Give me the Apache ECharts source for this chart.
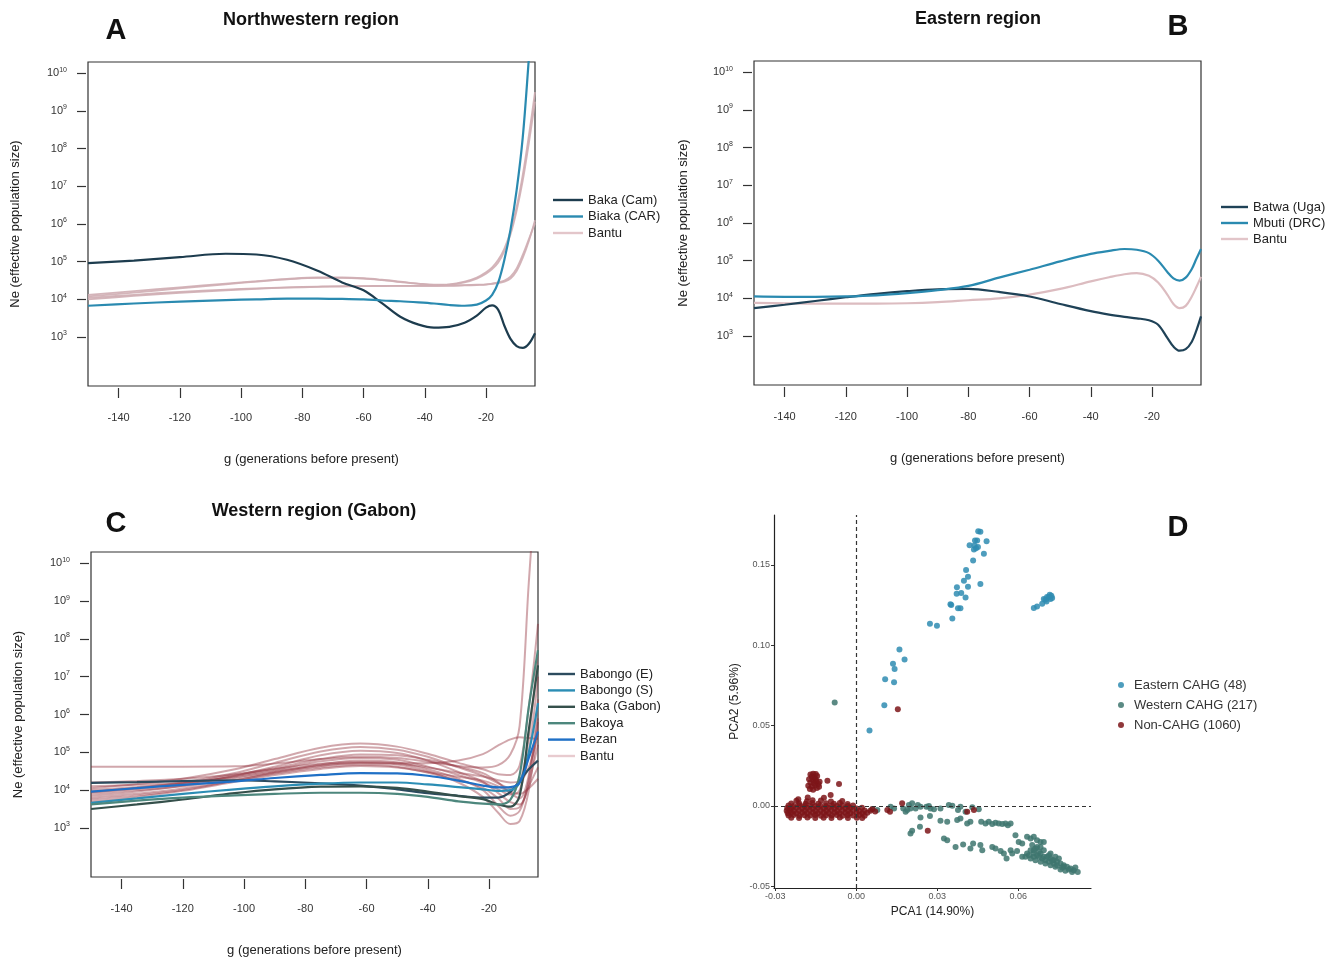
<!DOCTYPE html>
<html><head><meta charset="utf-8">
<script src="https://cdn.jsdelivr.net/npm/echarts@6/dist/echarts.min.js"></script>
<style>html,body{margin:0;padding:0;background:#fff}#c{width:1342px;height:960px}</style>
</head><body><div id="c"></div>
<script>
// ---------------- DATA ----------------
// Panels A-C: x = g (generations before present), y = log10(Ne)
const Y_TICK_EXPONENTS = [3,4,5,6,7,8,9,10];
const X_TICKS_G = [-140,-120,-100,-80,-60,-40,-20];

const G_A = [-150,-135,-120,-105,-95,-85,-75,-67,-60,-54,-48,-42,-37,-32,-27,-23,-20,-18,-16,-14,-12,-10,-8,-6,-4];
const A_BAKA_CAM  = [4.96,5.03,5.12,5.21,5.19,5.05,4.76,4.45,4.24,3.90,3.54,3.33,3.25,3.27,3.38,3.57,3.78,3.84,3.72,3.30,2.95,2.76,2.71,2.82,3.10];
const A_BIAKA_CAR = [3.83,3.89,3.94,3.98,4.00,4.02,4.02,4.01,4.00,3.97,3.95,3.92,3.89,3.85,3.83,3.86,3.97,4.12,4.45,5.05,5.85,6.90,8.30,10.40,12.60];
const A_BANTU_1 = [4.12,4.22,4.32,4.42,4.48,4.54,4.58,4.58,4.56,4.52,4.47,4.42,4.39,4.40,4.47,4.58,4.72,4.85,5.05,5.35,5.80,6.45,7.30,8.35,9.50];
const A_BANTU_2 = [4.08,4.18,4.29,4.40,4.47,4.53,4.57,4.57,4.55,4.51,4.46,4.41,4.38,4.39,4.45,4.55,4.68,4.80,4.98,5.28,5.72,6.35,7.15,8.15,9.25];
const A_BANTU_3 = [4.04,4.12,4.20,4.26,4.29,4.32,4.34,4.35,4.35,4.36,4.36,4.36,4.36,4.36,4.37,4.38,4.39,4.41,4.43,4.47,4.55,4.75,5.10,5.55,6.10];
const A_BANTU_4 = [4.00,4.09,4.17,4.24,4.28,4.31,4.33,4.34,4.35,4.35,4.36,4.36,4.36,4.37,4.38,4.39,4.40,4.42,4.45,4.50,4.60,4.82,5.18,5.60,6.02];

const G_B = [-150,-140,-130,-120,-110,-100,-90,-80,-70,-60,-50,-40,-34,-29,-25,-21,-18,-15,-13,-11,-9,-7,-5.5,-4];
const B_BATWA_UGA = [3.74,3.83,3.93,4.03,4.12,4.19,4.24,4.25,4.17,4.05,3.85,3.66,3.57,3.51,3.47,3.42,3.30,2.95,2.72,2.61,2.65,2.85,3.15,3.52];
const B_MBUTI_DRC = [4.05,4.04,4.04,4.05,4.08,4.14,4.22,4.33,4.55,4.76,4.98,5.18,5.26,5.31,5.29,5.20,5.00,4.70,4.53,4.47,4.55,4.78,5.05,5.31];
const B_BANTU     = [3.88,3.87,3.86,3.86,3.86,3.87,3.90,3.95,4.00,4.10,4.25,4.45,4.56,4.64,4.67,4.60,4.42,4.10,3.85,3.74,3.80,4.05,4.30,4.57];

const G_C = [-150,-135,-120,-103,-90,-75,-62,-50,-40,-30,-22,-17,-13,-10,-7,-4];
const C_BABONGO_E  = [4.19,4.21,4.24,4.26,4.23,4.18,4.12,4.02,3.92,3.85,3.80,3.80,3.95,4.25,4.55,4.78];
const C_BABONGO_S  = [3.66,3.78,3.90,4.02,4.10,4.17,4.20,4.20,4.15,4.08,4.02,3.98,4.00,4.20,5.00,6.30];
const C_BAKA_GABON = [3.50,3.62,3.75,3.92,4.02,4.09,4.10,4.06,3.96,3.84,3.76,3.62,3.56,3.85,5.60,7.30];
const C_BAKOYA     = [3.62,3.72,3.80,3.86,3.90,3.93,3.93,3.90,3.82,3.70,3.64,3.62,3.75,4.40,6.20,7.70];
const C_BEZAN      = [3.96,4.05,4.14,4.23,4.32,4.40,4.45,4.44,4.38,4.25,4.12,4.07,4.08,4.20,4.85,5.55];
const C_BANTU = [
  [4.62,4.62,4.62,4.63,4.70,4.82,4.88,4.85,4.75,4.64,4.60,4.66,4.95,5.70,9.50,13.0],
  [4.05,4.16,4.30,4.55,4.82,5.12,5.23,5.15,4.96,4.72,4.55,4.42,4.40,4.65,6.20,8.40],
  [3.95,4.06,4.20,4.45,4.72,5.02,5.14,5.07,4.88,4.60,4.38,4.18,4.05,4.20,5.40,7.70],
  [3.85,3.96,4.12,4.38,4.62,4.92,5.04,4.98,4.78,4.48,4.22,3.92,3.68,3.62,4.30,6.40],
  [4.20,4.24,4.30,4.42,4.58,4.82,4.94,4.92,4.80,4.62,4.45,4.20,3.92,3.78,4.40,5.90],
  [4.00,4.08,4.18,4.40,4.56,4.70,4.74,4.72,4.71,4.78,4.95,5.18,5.34,5.40,5.38,5.35],
  [3.75,3.86,4.00,4.25,4.46,4.64,4.72,4.68,4.50,4.20,3.82,3.40,3.10,3.18,4.00,5.80],
  [3.90,4.00,4.10,4.30,4.48,4.68,4.78,4.73,4.55,4.30,4.00,3.58,3.32,3.45,4.20,5.20],
  [3.80,3.90,4.04,4.25,4.44,4.60,4.67,4.62,4.46,4.26,4.06,3.78,3.50,3.55,4.10,4.60],
  [4.10,4.14,4.20,4.34,4.50,4.66,4.71,4.70,4.60,4.46,4.36,4.26,4.20,4.24,4.60,5.50],
  [3.70,3.82,3.98,4.22,4.40,4.56,4.64,4.60,4.48,4.35,4.25,4.10,3.95,3.90,4.05,4.30],
  [3.95,4.04,4.16,4.36,4.54,4.76,4.85,4.80,4.62,4.40,4.20,4.02,3.88,4.00,5.00,7.00]
];

// Panel D: PCA1, PCA2
const D_X_TICKS = [-0.03,0,0.03,0.06];
const D_Y_TICKS = [-0.05,0,0.05,0.10,0.15];
const D_EASTERN = [[0.0049,0.0468],[0.0104,0.0626],[0.0107,0.0788],[0.0136,0.0884],[0.0142,0.0852],[0.0140,0.0769],[0.0160,0.0973],[0.0179,0.0911],[0.0273,0.1133],[0.0299,0.1121],[0.0356,0.1166],[0.0352,0.1249],[0.0349,0.1254],[0.0377,0.1229],[0.0386,0.1229],[0.0373,0.1360],[0.0372,0.1320],[0.0389,0.1324],[0.0405,0.1297],[0.0414,0.1364],[0.0399,0.1401],[0.0414,0.1426],[0.0407,0.1468],[0.0460,0.1380],[0.0433,0.1526],[0.0420,0.1622],[0.0438,0.1620],[0.0436,0.1595],[0.0444,0.1603],[0.0448,0.1651],[0.0440,0.1651],[0.0452,0.1709],[0.0460,0.1705],[0.0473,0.1568],[0.0483,0.1647],[0.0451,0.1611],[0.0658,0.1231],[0.0670,0.1241],[0.0689,0.1258],[0.0701,0.1283],[0.0714,0.1299],[0.0723,0.1308],[0.0707,0.1299],[0.0720,0.1287],[0.0705,0.1272],[0.0695,0.1287],[0.0717,0.1314],[0.0726,0.1293]];
const D_WESTERN = [[-0.0080,0.0642],[0.0059,-0.0021],[0.0078,-0.0027],[0.0127,-0.0006],[0.0140,-0.0017],[0.0174,-0.0017],[0.0183,-0.0037],[0.0195,0.0004],[0.0201,-0.0017],[0.0207,0.0015],[0.0220,-0.0017],[0.0228,0.0004],[0.0238,-0.0006],[0.0260,-0.0006],[0.0269,-0.0002],[0.0275,-0.0017],[0.0288,-0.0021],[0.0312,-0.0017],[0.0343,0.0004],[0.0356,0.0000],[0.0377,-0.0027],[0.0386,-0.0006],[0.0405,-0.0037],[0.0430,-0.0010],[0.0454,-0.0021],[0.0189,-0.0027],
[0.0238,-0.0073],[0.0273,-0.0064],[0.0312,-0.0094],[0.0337,-0.0100],[0.0374,-0.0089],[0.0411,-0.0110],[0.0423,-0.0100],[0.0463,-0.0100],[0.0479,-0.0110],[0.0491,-0.0100],[0.0504,-0.0114],[0.0516,-0.0106],[0.0528,-0.0110],[0.0541,-0.0114],[0.0553,-0.0110],[0.0562,-0.0121],[0.0572,-0.0110],[0.0386,-0.0079],
[0.0201,-0.0173],[0.0207,-0.0156],[0.0236,-0.0131],[0.0325,-0.0204],[0.0337,-0.0214],[0.0368,-0.0256],[0.0396,-0.0241],[0.0423,-0.0266],[0.0433,-0.0235],[0.0460,-0.0245],[0.0467,-0.0277],[0.0504,-0.0256],[0.0516,-0.0266],[0.0535,-0.0281],[0.0547,-0.0297],[0.0557,-0.0328],[0.0572,-0.0277],[0.0578,-0.0297],[0.0590,-0.0183],[0.0596,-0.0281],[0.0615,-0.0235],[0.0615,-0.0318],[0.0602,-0.0225],
[0.0633,-0.0193],[0.0646,-0.0204],[0.0658,-0.0193],[0.0670,-0.0214],[0.0683,-0.0225],[0.0695,-0.0225],[0.0670,-0.0256],[0.0683,-0.0256],[0.0646,-0.0277],[0.0633,-0.0297],[0.0658,-0.0297],[0.0670,-0.0308],[0.0683,-0.0297],[0.0695,-0.0318],[0.0707,-0.0318],[0.0720,-0.0328],[0.0732,-0.0339],[0.0744,-0.0349],[0.0757,-0.0360],[0.0769,-0.0370],[0.0781,-0.0380],[0.0794,-0.0391],[0.0806,-0.0401],[0.0821,-0.0412],[0.0627,-0.0318],[0.0646,-0.0328],[0.0664,-0.0339],[0.0683,-0.0349],[0.0701,-0.0360],[0.0720,-0.0370],[0.0738,-0.0380],[0.0757,-0.0397],[0.0775,-0.0405],[0.0720,-0.0297],[0.0738,-0.0318],[0.0751,-0.0328],[0.0714,-0.0349],[0.0689,-0.0328],[0.0658,-0.0318],[0.0640,-0.0308],[0.0732,-0.0360],[0.0769,-0.0380],[0.0788,-0.0397],[0.0695,-0.0277],[0.0677,-0.0287],[0.0652,-0.0245],[0.0664,-0.0266],[0.0714,-0.0308],[0.0726,-0.0339],[0.0744,-0.0370],[0.0763,-0.0385],[0.0701,-0.0339],[0.0677,-0.0318],[0.0658,-0.0277],[0.0800,-0.0412],[0.0812,-0.0385]];
const D_NON_CAHG = [[-0.0222,0.0031],[-0.0183,0.0028],[-0.0131,0.0033],[-0.0094,0.0026],[-0.0052,0.0030],[-0.0162,0.0035],
[-0.0241,0.0014],[-0.0212,0.0016],[-0.0188,0.0012],[-0.0163,0.0017],[-0.0141,0.0013],[-0.0112,0.0016],[-0.0083,0.0012],[-0.0061,0.0017],[-0.0032,0.0011],
[-0.0251,0.0002],[-0.0232,-0.0001],[-0.0211,0.0003],[-0.0192,-0.0002],[-0.0171,0.0001],[-0.0152,-0.0001],[-0.0133,0.0002],[-0.0112,-0.0002],[-0.0091,0.0001],[-0.0072,-0.0001],[-0.0051,0.0002],[-0.0031,-0.0002],[-0.0012,0.0001],
[-0.0256,-0.0014],[-0.0241,-0.0017],[-0.0222,-0.0013],[-0.0201,-0.0016],[-0.0182,-0.0014],[-0.0161,-0.0017],[-0.0142,-0.0013],[-0.0121,-0.0016],[-0.0102,-0.0014],[-0.0081,-0.0017],[-0.0062,-0.0013],[-0.0041,-0.0016],[-0.0022,-0.0014],[0.0001,-0.0017],[0.0021,-0.0013],
[-0.0258,-0.0031],[-0.0246,-0.0028],[-0.0231,-0.0032],[-0.0212,-0.0029],[-0.0191,-0.0031],[-0.0172,-0.0028],[-0.0151,-0.0032],[-0.0132,-0.0029],[-0.0111,-0.0031],[-0.0092,-0.0028],[-0.0071,-0.0032],[-0.0052,-0.0029],[-0.0031,-0.0031],[-0.0012,-0.0028],[0.0011,-0.0032],[0.0031,-0.0029],[0.0052,-0.0031],
[-0.0254,-0.0046],[-0.0241,-0.0043],[-0.0222,-0.0047],[-0.0201,-0.0044],[-0.0182,-0.0046],[-0.0161,-0.0043],[-0.0142,-0.0047],[-0.0121,-0.0044],[-0.0102,-0.0046],[-0.0081,-0.0043],[-0.0062,-0.0047],[-0.0041,-0.0044],[-0.0022,-0.0046],[0.0001,-0.0043],[0.0022,-0.0047],[0.0041,-0.0044],
[-0.0251,-0.0061],[-0.0232,-0.0058],[-0.0211,-0.0062],[-0.0192,-0.0059],[-0.0171,-0.0061],[-0.0152,-0.0058],[-0.0131,-0.0062],[-0.0112,-0.0059],[-0.0091,-0.0061],[-0.0072,-0.0058],[-0.0051,-0.0062],[-0.0032,-0.0059],[-0.0011,-0.0061],[0.0012,-0.0058],[0.0031,-0.0062],
[-0.0241,-0.0074],[-0.0212,-0.0077],[-0.0181,-0.0073],[-0.0152,-0.0076],[-0.0121,-0.0074],[-0.0092,-0.0077],[-0.0061,-0.0073],[-0.0031,-0.0076],[0.0002,-0.0074],[0.0022,-0.0077],
[-0.0170,0.0195],[-0.0160,0.0200],[-0.0150,0.0198],[-0.0165,0.0180],[-0.0155,0.0175],[-0.0145,0.0185],[-0.0175,0.0165],[-0.0160,0.0160],[-0.0150,0.0165],[-0.0170,0.0145],[-0.0158,0.0140],[-0.0148,0.0150],[-0.0178,0.0125],[-0.0165,0.0120],[-0.0152,0.0128],[-0.0140,0.0135],[-0.0172,0.0105],[-0.0160,0.0100],[-0.0146,0.0110],[-0.0136,0.0150],[-0.0138,0.0118],
[-0.0107,0.0156],[-0.0064,0.0135],[-0.0095,0.0067],[-0.0120,0.0050],[-0.0180,0.0052],[-0.0215,0.0040],[0.0060,-0.0020],[0.0070,-0.0035],[0.0115,-0.0027],[0.0125,-0.0037],[0.0170,0.0015],[0.0411,-0.0037],[0.0436,-0.0027],[0.0265,-0.0156],[0.0154,0.0601]];

// ---------------- CHART ----------------
const FONT = '"Liberation Sans", Arial, Helvetica, sans-serif';
const TXT = '#222';

function xAxisG(gi) {
  return {
    type: 'value', gridIndex: gi, min: -150, max: -4, offset: 2,
    axisLine: { show: false, onZero: false }, splitLine: { show: false },
    axisTick: { show: true, customValues: X_TICKS_G, length: 10, lineStyle: { color: '#333', width: 1.2 } },
    axisLabel: { customValues: X_TICKS_G, margin: 24, fontSize: 11, color: '#333', fontFamily: FONT },
    name: 'g (generations before present)', nameLocation: 'middle', nameGap: 65,
    nameTextStyle: { fontSize: 13, color: TXT, fontFamily: FONT }
  };
}
function yAxisNe(gi, gap) {
  return {
    type: 'value', gridIndex: gi, min: 1.7, max: 10.3, offset: 2,
    axisLine: { show: false, onZero: false }, splitLine: { show: false },
    axisTick: { show: true, customValues: Y_TICK_EXPONENTS, length: 9, lineStyle: { color: '#333', width: 1.2 } },
    axisLabel: {
      customValues: Y_TICK_EXPONENTS, margin: 19,
      formatter: v => '{b|10}{s|' + v + '}',
      rich: {
        b: { fontSize: 11, color: '#333', fontFamily: FONT },
        s: { fontSize: 7, color: '#333', fontFamily: FONT, padding: [0, 0, 7, 0] }
      }
    },
    name: 'Ne (effective population size)', nameLocation: 'middle', nameGap: gap,
    nameTextStyle: { fontSize: 13, color: TXT, fontFamily: FONT }
  };
}
function neLine(name, gi, gArr, vals, color, width, opacity, z) {
  return {
    type: 'line', name, xAxisIndex: gi, yAxisIndex: gi,
    data: gArr.map((g, i) => [g, vals[i]]),
    smooth: 0.35, symbol: 'none', clip: true, silent: true, z: z || 2,
    lineStyle: { color, width, opacity: opacity == null ? 1 : opacity },
    itemStyle: { color }, emphasis: { disabled: true }
  };
}

const COL = {
  bakaCam: '#1d3c4e', biaka: '#2a8ab0', bantuA: '#cfadb2',
  batwa: '#1f4257', mbuti: '#2a8ab0', bantuB: '#dcbcc0',
  babE: '#2c4b5e', babS: '#2b8db4', bakaG: '#35504b', bakoya: '#4d877d', bezan: '#1f70c6',
  bantuC: 'rgba(145,45,58,0.42)',
  east: '#2f8cb2', west: '#3e766f', non: '#7c1519'
};

const series = [];
// Panel A
[A_BANTU_1, A_BANTU_2, A_BANTU_3, A_BANTU_4].forEach(v => series.push(neLine('Bantu', 0, G_A, v, COL.bantuA, 1.8, 0.9, 2)));
series.push(neLine('Baka (Cam)', 0, G_A, A_BAKA_CAM, COL.bakaCam, 2.2, 1, 3));
series.push(neLine('Biaka (CAR)', 0, G_A, A_BIAKA_CAR, COL.biaka, 2.2, 1, 3));
// Panel B
series.push(neLine('Bantu', 1, G_B, B_BANTU, COL.bantuB, 2.2, 1, 2));
series.push(neLine('Batwa (Uga)', 1, G_B, B_BATWA_UGA, COL.batwa, 2.2, 1, 3));
series.push(neLine('Mbuti (DRC)', 1, G_B, B_MBUTI_DRC, COL.mbuti, 2.2, 1, 3));
// Panel C
C_BANTU.forEach(v => series.push(neLine('Bantu', 2, G_C, v, COL.bantuC, 2, 1, 2)));
series.push(neLine('Babongo (E)', 2, G_C, C_BABONGO_E, COL.babE, 2.2, 1, 3));
series.push(neLine('Babongo (S)', 2, G_C, C_BABONGO_S, COL.babS, 2.2, 1, 3));
series.push(neLine('Baka (Gabon)', 2, G_C, C_BAKA_GABON, COL.bakaG, 2.2, 1, 3));
series.push(neLine('Bakoya', 2, G_C, C_BAKOYA, COL.bakoya, 2.2, 1, 3));
series.push(neLine('Bezan', 2, G_C, C_BEZAN, COL.bezan, 2.2, 1, 3));
// Panel D
function scat(name, data, color, z) {
  return { type: 'scatter', name, xAxisIndex: 3, yAxisIndex: 3, data, symbolSize: 6, z,
    itemStyle: { color, opacity: 0.85 }, silent: true, emphasis: { disabled: true } };
}
series.push(scat('Western CAHG (217)', D_WESTERN, COL.west, 3));
series.push(scat('Non-CAHG (1060)', D_NON_CAHG, COL.non, 4));
series.push(scat('Eastern CAHG (48)', D_EASTERN, COL.east, 5));
series.push({
  type: 'line', xAxisIndex: 3, yAxisIndex: 3, data: [], silent: true,
  markLine: { silent: true, symbol: ['none', 'none'], label: { show: false },
    lineStyle: { type: [4, 3], color: '#333', width: 1.2 },
    data: [{ xAxis: 0 }, { yAxis: 0 }] }
});

const gridBox = { show: true, borderColor: '#333', borderWidth: 1.2, backgroundColor: 'transparent', outerBoundsMode: 'none', containLabel: false };

const LEGEND_COLORS = {
  'Baka (Cam)': COL.bakaCam, 'Biaka (CAR)': COL.biaka,
  'Batwa (Uga)': COL.batwa, 'Mbuti (DRC)': COL.mbuti,
  'Babongo (E)': COL.babE, 'Babongo (S)': COL.babS, 'Baka (Gabon)': COL.bakaG, 'Bakoya': COL.bakoya, 'Bezan': COL.bezan
};
const lineLegend = (left, top, iw, gap, names, bantuColor) => ({
  orient: 'vertical', left, top, itemWidth: iw, itemHeight: 2.4, itemGap: gap, icon: 'rect',
  textStyle: { fontSize: 13, color: TXT, fontFamily: FONT, lineHeight: 14 },
  selectedMode: false,
  data: names.map(n => ({ name: n, itemStyle: { color: n === 'Bantu' ? bantuColor : LEGEND_COLORS[n], opacity: 1 } }))
});

const dAxisCommon = {
  axisLine: { show: true, onZero: false, lineStyle: { color: '#222', width: 1.2 } },
  splitLine: { show: false },
  nameTextStyle: { fontSize: 12, color: TXT, fontFamily: FONT }
};

const option = {
  animation: false,
  backgroundColor: '#fff',
  textStyle: { fontFamily: FONT },
  grid: [
    Object.assign({ left: 88, top: 62, width: 447, height: 324 }, gridBox),
    Object.assign({ left: 754, top: 61, width: 447, height: 324 }, gridBox),
    Object.assign({ left: 91, top: 552, width: 447, height: 325 }, gridBox),
    { left: 774, top: 515, width: 317, height: 373, show: false, outerBoundsMode: 'none', containLabel: false }
  ],
  xAxis: [
    xAxisG(0), xAxisG(1), xAxisG(2),
    Object.assign({
      type: 'value', gridIndex: 3, min: -0.0305, max: 0.087,
      axisTick: { show: true, customValues: D_X_TICKS, length: 3, lineStyle: { color: '#333' } },
      axisLabel: { customValues: D_X_TICKS, formatter: v => v.toFixed(2), fontSize: 9, color: '#555', margin: 4, fontFamily: FONT },
      name: 'PCA1 (14.90%)', nameLocation: 'middle', nameGap: 18
    }, dAxisCommon)
  ],
  yAxis: [
    yAxisNe(0, 64), yAxisNe(1, 62), yAxisNe(2, 64),
    Object.assign({
      type: 'value', gridIndex: 3, min: -0.0512, max: 0.181,
      axisTick: { show: true, customValues: D_Y_TICKS, length: 3, lineStyle: { color: '#333' } },
      axisLabel: { customValues: D_Y_TICKS, formatter: v => v.toFixed(2), fontSize: 9, color: '#555', margin: 4, fontFamily: FONT },
      name: 'PCA2 (5.96%)', nameLocation: 'middle', nameGap: 33
    }, dAxisCommon)
  ],
  legend: [
    lineLegend(548, 188, 30, 2.5, ['Baka (Cam)', 'Biaka (CAR)', 'Bantu'], '#e3c6ca'),
    lineLegend(1216, 195, 27, 2, ['Batwa (Uga)', 'Mbuti (DRC)', 'Bantu'], '#e2c5c9'),
    lineLegend(543, 662, 27, 2.4, ['Babongo (E)', 'Babongo (S)', 'Baka (Gabon)', 'Bakoya', 'Bezan', 'Bantu'], '#e8cbcf'),
    {
      orient: 'vertical', left: 1113, top: 673, itemWidth: 16, itemHeight: 6, itemGap: 6, icon: 'circle',
      selectedMode: false,
      textStyle: { fontSize: 13, color: '#333', fontFamily: FONT, lineHeight: 14 },
      data: ['Eastern CAHG (48)', 'Western CAHG (217)', 'Non-CAHG (1060)']
    }
  ],
  graphic: [
    { type: 'text', x: 116, y: 31, style: { text: 'A', font: 'bold 29px ' + FONT, fill: '#111', align: 'center', verticalAlign: 'middle' } },
    { type: 'text', x: 311, y: 20, style: { text: 'Northwestern region', font: 'bold 18px ' + FONT, fill: '#111', align: 'center', verticalAlign: 'middle' } },
    { type: 'text', x: 1178, y: 27, style: { text: 'B', font: 'bold 29px ' + FONT, fill: '#111', align: 'center', verticalAlign: 'middle' } },
    { type: 'text', x: 978, y: 19, style: { text: 'Eastern region', font: 'bold 18px ' + FONT, fill: '#111', align: 'center', verticalAlign: 'middle' } },
    { type: 'text', x: 116, y: 524, style: { text: 'C', font: 'bold 29px ' + FONT, fill: '#111', align: 'center', verticalAlign: 'middle' } },
    { type: 'text', x: 314, y: 511, style: { text: 'Western region (Gabon)', font: 'bold 18px ' + FONT, fill: '#111', align: 'center', verticalAlign: 'middle' } },
    { type: 'text', x: 1178, y: 528, style: { text: 'D', font: 'bold 29px ' + FONT, fill: '#111', align: 'center', verticalAlign: 'middle' } }
  ],
  series
};

const chart = echarts.init(document.getElementById('c'), null, { renderer: 'canvas', width: 1342, height: 960 });
chart.setOption(option);
</script></body></html>
